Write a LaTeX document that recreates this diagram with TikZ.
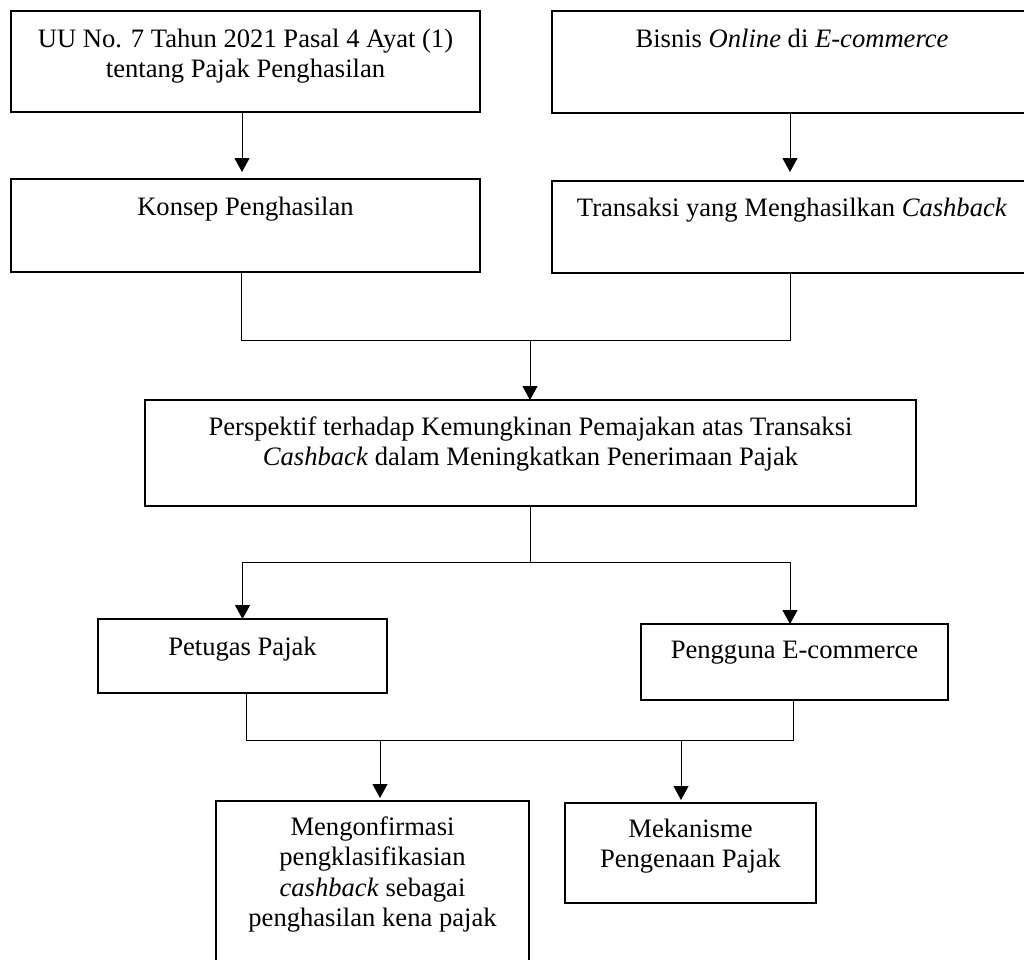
\documentclass[tikz,border=0pt]{standalone}
\usepackage{fontspec}
\setmainfont{Liberation Serif}
\usetikzlibrary{arrows.meta,calc}
\tikzset{
  box/.style={draw, line width=1.6pt, rectangle, anchor=north west, inner sep=0pt, outer sep=0pt},
  txt/.style={anchor=base, align=center, inner sep=0pt, font=\fontsize{26.6}{30.6}\selectfont},
  conn/.style={line width=1pt},
  arr/.style={line width=1pt, -{Triangle[width=15pt,length=14pt]}}
}
\begin{document}
\begin{tikzpicture}[x=1pt,y=-1pt]
\useasboundingbox (0,0) rectangle (1024,959);
\clip (0,0) rectangle (1024,959);
% boxes
\node[box, minimum width=469pt, minimum height=101pt] (b1) at (11,11) {};
\node[box, minimum width=480pt, minimum height=102pt] (b2) at (552,11) {};
\node[box, minimum width=469pt, minimum height=93pt] (b3) at (11,179) {};
\node[box, minimum width=480pt, minimum height=92pt] (b4) at (552,181) {};
\node[box, minimum width=771pt, minimum height=106pt] (b5) at (145,400) {};
\node[box, minimum width=289pt, minimum height=74pt] (b6) at (98,619) {};
\node[box, minimum width=307pt, minimum height=76pt] (b7) at (641,624) {};
\node[box, minimum width=313pt, minimum height=190pt] (b8) at (216,801) {};
\node[box, minimum width=251pt, minimum height=100pt] (b9) at (565,803) {};
% texts (anchor=base sits on the last line's baseline)
\node[txt] (t1) at ($(b1.north)+(0,36+30.6)$) {UU No. 7 Tahun 2021 Pasal 4 Ayat (1)\\tentang Pajak Penghasilan};
\node[txt] (t2) at ($(b2.north)+(0,36)$) {Bisnis \textit{Online} di \textit{E-commerce}};
\node[txt] (t3) at ($(b3.north)+(0,36)$) {Konsep Penghasilan};
\node[txt] (t4) at ($(b4.north)+(0,35)$) {Transaksi yang Menghasilkan \textit{Cashback}};
\node[txt] (t5) at ($(b5.north)+(0,35+30.6)$) {Perspektif terhadap Kemungkinan Pemajakan atas Transaksi\\\textit{Cashback} dalam Meningkatkan Penerimaan Pajak};
\node[txt] (t6) at ($(b6.north)+(0,36)$) {Petugas Pajak};
\node[txt] (t7) at ($(b7.north)+(0,34)$) {Pengguna E-commerce};
\node[txt] (t8) at ($(b8.north)+(0,34+91.8)$) {Mengonfirmasi\\pengklasifikasian\\\textit{cashback} sebagai\\penghasilan kena pajak};
\node[txt] (t9) at ($(b9.north)+(0,34+30.6)$) {Mekanisme\\Pengenaan Pajak};
% junction coordinates
\coordinate (j1) at (530,340);
\coordinate (j2) at (530,562);
\coordinate (h1) at (246,740);
\coordinate (h2) at (793,740);
\coordinate (c1) at (380,740);
\coordinate (c2) at (681,740);
% connectors
\draw[arr, shorten >=7pt] ($(b1.south)+(-3.5,0)$) -- ($(b3.north)+(-3.5,0)$);
\draw[arr, shorten >=9pt] ($(b2.south)+(-2,0)$) -- ($(b4.north)+(-2,0)$);
\draw[conn] ($(b3.south)+(-4.5,0)$) |- (j1);
\draw[conn] ($(b4.south)+(-2,0)$) |- (j1);
\draw[arr] (j1) -- (j1 |- b5.north);
\draw[conn] (b5.south -| j1) -- (j2);
\draw[arr] (j2) -| (b6.north);
\draw[arr] (j2) -| ($(b7.north)+(-4.5,0)$);
\draw[conn] (b6.south -| h1) -- (h1) -- (h2) -- (b7.south -| h2);
\draw[arr, shorten >=3pt] (c1) -- (c1 |- b8.north);
\draw[arr, shorten >=3pt] (c2) -- (c2 |- b9.north);
\end{tikzpicture}
\end{document}
